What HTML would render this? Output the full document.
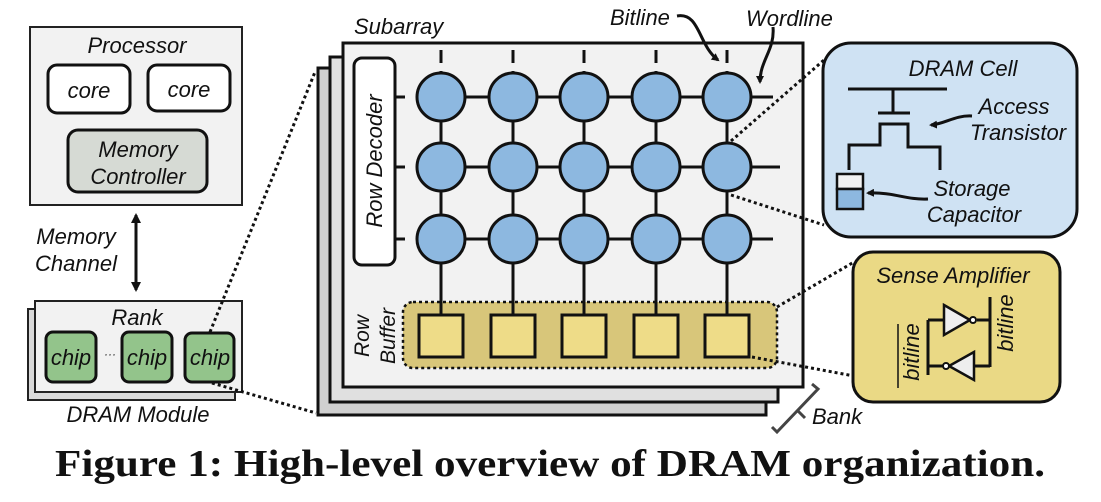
<!DOCTYPE html>
<html><head><meta charset="utf-8"><style>
html,body{margin:0;padding:0;background:#fff;}
svg{display:block;}
text{font-family:"Liberation Sans",sans-serif;font-style:italic;fill:#111;}
</style></head><body>
<svg width="1101" height="502" viewBox="0 0 1101 502" xmlns="http://www.w3.org/2000/svg">
<defs>
<marker id="ah" markerWidth="8" markerHeight="8" refX="6" refY="4" orient="auto" markerUnits="userSpaceOnUse"><path d="M0,0 L8,4 L0,8 z" fill="#111"/></marker>
<marker id="ahs" markerWidth="10" markerHeight="10" refX="8" refY="5" orient="auto-start-reverse" markerUnits="userSpaceOnUse"><path d="M0,0 L10,5 L0,10 z" fill="#111"/></marker>
</defs>

<!-- Processor -->
<rect x="30" y="27" width="212" height="178" fill="#f2f2f2" stroke="#222" stroke-width="2"/>
<text x="137" y="53" font-size="22" text-anchor="middle">Processor</text>
<rect x="48" y="65" width="82" height="48" rx="9" fill="#fff" stroke="#111" stroke-width="3"/>
<text x="89" y="98" font-size="22" text-anchor="middle">core</text>
<rect x="148" y="65" width="82" height="46" rx="9" fill="#fff" stroke="#111" stroke-width="3"/>
<text x="189" y="97" font-size="22" text-anchor="middle">core</text>
<rect x="68" y="130" width="139" height="62" rx="10" fill="#d6dad4" stroke="#111" stroke-width="3"/>
<text x="138" y="157" font-size="22" text-anchor="middle">Memory</text>
<text x="138" y="184" font-size="22" text-anchor="middle">Controller</text>

<line x1="136" y1="215" x2="136" y2="290" stroke="#111" stroke-width="3" marker-start="url(#ahs)" marker-end="url(#ahs)"/>
<text x="76" y="244" font-size="22" text-anchor="middle">Memory</text>
<text x="76" y="271" font-size="22" text-anchor="middle">Channel</text>

<!-- Rank -->
<rect x="28" y="309" width="207" height="91" fill="#d9d9d9" stroke="#222" stroke-width="2"/>
<rect x="35" y="301" width="207" height="91" fill="#f2f2f2" stroke="#222" stroke-width="2"/>
<text x="137" y="325" font-size="22" text-anchor="middle">Rank</text>
<rect x="46" y="332" width="50" height="50" rx="7" fill="#93c48b" stroke="#111" stroke-width="3"/>
<text x="71" y="365" font-size="22" text-anchor="middle">chip</text>
<text x="110" y="358" font-size="12" text-anchor="middle">···</text>
<rect x="122" y="332" width="50" height="50" rx="7" fill="#93c48b" stroke="#111" stroke-width="3"/>
<text x="147" y="365" font-size="22" text-anchor="middle">chip</text>
<rect x="185" y="333" width="49" height="49" rx="7" fill="#93c48b" stroke="#111" stroke-width="3"/>
<text x="210" y="365" font-size="22" text-anchor="middle">chip</text>
<text x="138" y="422" font-size="22" text-anchor="middle">DRAM Module</text>

<line x1="210" y1="332" x2="315" y2="72" stroke="#111" stroke-width="3" stroke-dasharray="3,3"/>
<line x1="212" y1="383" x2="316" y2="413" stroke="#111" stroke-width="3" stroke-dasharray="3,3"/>

<!-- Subarray stack -->
<rect x="318" y="68" width="448" height="347" fill="#d0d0d0" stroke="#111" stroke-width="3"/>
<rect x="330" y="57" width="448" height="345" fill="#e0e0e0" stroke="#111" stroke-width="3"/>
<rect x="343" y="43" width="460" height="344" fill="#f2f2f2" stroke="#111" stroke-width="3"/>
<text x="354" y="34" font-size="22">Subarray</text>

<rect x="354" y="58" width="41" height="207" rx="8" fill="#fff" stroke="#111" stroke-width="3"/>
<text transform="translate(382,161) rotate(-90)" font-size="22" text-anchor="middle">Row  Decoder</text>

<g stroke="#111" stroke-width="3">
<line x1="417" y1="97" x2="773" y2="97"/><line x1="417" y1="167" x2="780" y2="167"/><line x1="417" y1="239" x2="773" y2="239"/>
<line x1="395" y1="97" x2="405" y2="97"/><line x1="395" y1="167" x2="405" y2="167"/><line x1="395" y1="239" x2="405" y2="239"/>
<line x1="441" y1="71" x2="441" y2="330"/><line x1="513" y1="71" x2="513" y2="330"/><line x1="584" y1="71" x2="584" y2="330"/><line x1="656" y1="71" x2="656" y2="330"/><line x1="727" y1="71" x2="727" y2="330"/>
<line x1="441" y1="50" x2="441" y2="63"/><line x1="513" y1="50" x2="513" y2="63"/><line x1="584" y1="50" x2="584" y2="63"/><line x1="656" y1="50" x2="656" y2="63"/><line x1="727" y1="50" x2="727" y2="63"/>
</g>
<g fill="#8db8e0" stroke="#111" stroke-width="3">
<circle cx="441" cy="97" r="24"/><circle cx="513" cy="97" r="24"/><circle cx="584" cy="97" r="24"/><circle cx="656" cy="97" r="24"/><circle cx="727" cy="97" r="24"/>
<circle cx="441" cy="167" r="24"/><circle cx="513" cy="167" r="24"/><circle cx="584" cy="167" r="24"/><circle cx="656" cy="167" r="24"/><circle cx="727" cy="167" r="24"/>
<circle cx="441" cy="239" r="24"/><circle cx="513" cy="239" r="24"/><circle cx="584" cy="239" r="24"/><circle cx="656" cy="239" r="24"/><circle cx="727" cy="239" r="24"/>
</g>
<rect x="403" y="302" width="374" height="66" rx="10" fill="#d8c67a" stroke="#111" stroke-width="2.5" stroke-dasharray="3,3"/>
<g stroke="#111" stroke-width="3"><line x1="441" y1="262" x2="441" y2="315"/><line x1="513" y1="262" x2="513" y2="315"/><line x1="584" y1="262" x2="584" y2="315"/><line x1="656" y1="262" x2="656" y2="315"/><line x1="727" y1="262" x2="727" y2="315"/></g>
<g fill="#eedc88" stroke="#111" stroke-width="3">
<rect x="419" y="315" width="44" height="42"/><rect x="491" y="315" width="44" height="42"/><rect x="562" y="315" width="44" height="42"/><rect x="634" y="315" width="44" height="42"/><rect x="705" y="315" width="44" height="42"/>
</g>
<text transform="translate(369,336) rotate(-90)" font-size="21" text-anchor="middle">Row</text>
<text transform="translate(395,336) rotate(-90)" font-size="21" text-anchor="middle">Buffer</text>

<text x="610" y="25" font-size="22">Bitline</text>
<text x="746" y="26" font-size="22">Wordline</text>
<path d="M677,16 C700,12 698,45 718,60" fill="none" stroke="#111" stroke-width="3" marker-end="url(#ah)"/>
<path d="M773,27 C775,50 760,60 760,82" fill="none" stroke="#111" stroke-width="3" marker-end="url(#ah)"/>

<path d="M772,427 L777,432 L818,389 L812,384" fill="none" stroke="#444" stroke-width="3"/>
<line x1="797" y1="410" x2="805" y2="418" stroke="#444" stroke-width="3"/>
<text x="812" y="424" font-size="22">Bank</text>

<g stroke="#111" stroke-width="3" stroke-dasharray="3,3">
<line x1="731" y1="141" x2="824" y2="60"/>
<line x1="731" y1="195" x2="824" y2="225"/>
<line x1="777" y1="307" x2="854" y2="262"/>
<line x1="752" y1="357" x2="854" y2="376"/>
</g>

<!-- DRAM Cell -->
<rect x="823" y="43" width="254" height="194" rx="28" fill="#cfe2f3" stroke="#111" stroke-width="3"/>
<text x="963" y="76" font-size="22" text-anchor="middle">DRAM Cell</text>
<g stroke="#111" stroke-width="3" fill="none">
<line x1="848" y1="89" x2="947" y2="89"/>
<line x1="893" y1="89" x2="893" y2="113"/>
<line x1="878" y1="113" x2="910" y2="113"/>
<path d="M849,170 L849,145 L880,145 L880,124 L908,124 L908,147 L940,147 L940,170"/>
</g>
<rect x="837" y="174" width="26" height="15" fill="#f2f2f2" stroke="#111" stroke-width="2.5"/>
<rect x="837" y="189" width="26" height="20" fill="#8db8e0" stroke="#111" stroke-width="2.5"/>
<text x="1014" y="114" font-size="22" text-anchor="middle">Access</text>
<text x="1018" y="140" font-size="22" text-anchor="middle">Transistor</text>
<path d="M972,116 C955,115 945,124 931,125" fill="none" stroke="#111" stroke-width="3" marker-end="url(#ah)"/>
<text x="972" y="196" font-size="22" text-anchor="middle">Storage</text>
<text x="974" y="222" font-size="22" text-anchor="middle">Capacitor</text>
<path d="M928,199 C905,200 895,192 868,193" fill="none" stroke="#111" stroke-width="3" marker-end="url(#ah)"/>

<!-- Sense Amplifier -->
<rect x="853" y="252" width="207" height="150" rx="20" fill="#ead985" stroke="#111" stroke-width="3"/>
<text x="953" y="283" font-size="22" text-anchor="middle">Sense Amplifier</text>
<g stroke="#111" stroke-width="3" fill="none">
<line x1="928" y1="320" x2="928" y2="375"/>
<line x1="990" y1="297" x2="990" y2="367"/>
<line x1="928" y1="320" x2="944" y2="320"/>
<line x1="977" y1="320" x2="990" y2="320"/>
<line x1="928" y1="366" x2="943" y2="366"/>
<line x1="974" y1="366" x2="990" y2="366"/>
</g>
<path d="M944,305 L970,320 L944,335 z" fill="#eee" stroke="#111" stroke-width="2.5"/>
<circle cx="973" cy="320" r="3" fill="#fff" stroke="#111" stroke-width="2"/>
<path d="M974,352 L949,366 L974,380 z" fill="#eee" stroke="#111" stroke-width="2.5"/>
<circle cx="946" cy="366" r="3" fill="#fff" stroke="#111" stroke-width="2"/>
<text transform="translate(919,352) rotate(-90)" font-size="22" text-anchor="middle">bitline</text>
<line x1="898" y1="324" x2="898" y2="388" stroke="#111" stroke-width="1.5"/>
<text transform="translate(1013,323) rotate(-90)" font-size="22" text-anchor="middle">bitline</text>

<!-- Caption -->
<text x="55" y="476" font-size="38" font-weight="bold" textLength="990" lengthAdjust="spacingAndGlyphs" style="font-family:'Liberation Serif',serif;font-style:normal;">Figure 1: High-level overview of DRAM organization.</text>
</svg>
</body></html>
